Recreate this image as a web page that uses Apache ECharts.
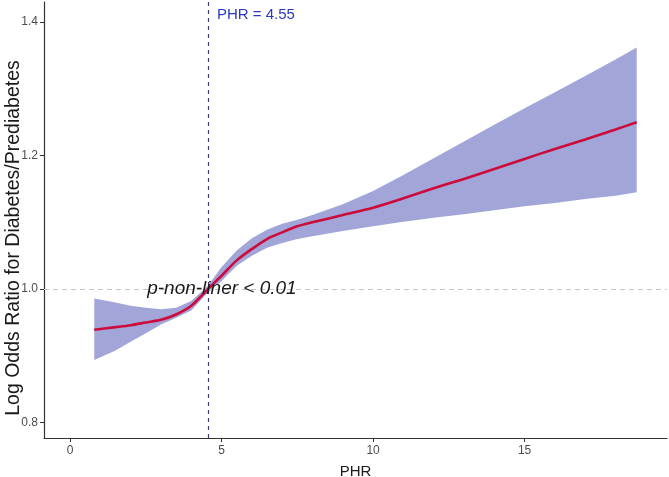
<!DOCTYPE html>
<html>
<head>
<meta charset="utf-8">
<script src="https://cdn.jsdelivr.net/npm/echarts@6/dist/echarts.min.js"></script>
<style>
  html, body { margin: 0; padding: 0; background: #fff; }
  #chart { width: 669px; height: 477px; }
</style>
</head>
<body>
<div id="chart"></div>
<script>
// values
const phr = [0.8, 1.5, 2, 2.5, 3, 3.5, 4, 4.55, 5, 5.5, 6, 6.5, 7, 7.5, 8, 9, 10, 11, 12, 13, 14, 15, 16, 17, 18, 18.7];
const estimate = [0.939, 0.943, 0.946, 0.950, 0.954, 0.962, 0.975, 1.0, 1.020, 1.043, 1.060, 1.075, 1.085, 1.094, 1.100, 1.111, 1.122, 1.136, 1.151, 1.165, 1.180, 1.195, 1.210, 1.224, 1.239, 1.250];
const upper = [0.986, 0.980, 0.975, 0.972, 0.970, 0.972, 0.982, 1.005, 1.033, 1.058, 1.076, 1.089, 1.098, 1.104, 1.111, 1.127, 1.147, 1.171, 1.196, 1.221, 1.246, 1.271, 1.295, 1.319, 1.344, 1.362];
const lower = [0.894, 0.908, 0.921, 0.934, 0.947, 0.957, 0.968, 0.995, 1.012, 1.035, 1.050, 1.062, 1.069, 1.075, 1.079, 1.087, 1.094, 1.101, 1.107, 1.112, 1.118, 1.124, 1.129, 1.135, 1.140, 1.145];
const cutoff = 4.55;
const xTicks = [0, 5, 10, 15];
const yTicks = [0.8, 1.0, 1.2, 1.4];

const chart = echarts.init(document.getElementById("chart"), null, { renderer: "canvas" });
const font = "Liberation Sans, Arial, sans-serif";

// confidence band as one polygon: upper edge forward, lower edge back
function renderBand(params, api) {
  if (params.dataIndex !== 0) return null;
  const top = phr.map((x, i) => api.coord([x, upper[i]]));
  const bottom = phr.map((x, i) => api.coord([x, lower[i]])).reverse();
  return {
    type: "polygon",
    shape: { points: top.concat(bottom) },
    style: { fill: "#a2a5d7" },
    silent: true
  };
}

chart.setOption({
  animation: false,
  backgroundColor: "#fff",
  textStyle: { fontFamily: font },
  grid: { left: 44, right: 2, top: 2, bottom: 39, outerBoundsMode: "none", containLabel: false },
  xAxis: {
    type: "value",
    min: -0.86,
    max: 19.7,
    name: "PHR",
    nameLocation: "middle",
    nameGap: 26,
    nameTextStyle: { color: "#1a1a1a", fontSize: 15, fontFamily: font },
    axisLine: { onZero: false, lineStyle: { color: "#333", width: 1.2 } },
    axisTick: { length: 4, lineStyle: { color: "#333" }, customValues: xTicks },
    axisLabel: { color: "#4d4d4d", fontSize: 12, margin: 7, customValues: xTicks },
    splitLine: { show: false }
  },
  yAxis: {
    type: "value",
    min: 0.777,
    max: 1.43,
    axisLine: { onZero: false, lineStyle: { color: "#333", width: 1.2 } },
    axisTick: { length: 4, lineStyle: { color: "#333" }, customValues: yTicks },
    axisLabel: {
      color: "#4d4d4d", fontSize: 12, margin: 6,
      customValues: yTicks,
      formatter: (v) => v.toFixed(1)
    },
    splitLine: { show: false }
  },
  series: [
    {
      name: "band",
      type: "custom",
      renderItem: renderBand,
      data: phr.map((x, i) => [x, lower[i], upper[i]]),
      encode: { x: 0, y: [1, 2] },
      silent: true,
      z: 1
    },
    {
      name: "estimate",
      type: "line",
      data: phr.map((x, i) => [x, estimate[i]]),
      lineStyle: { color: "#cc0a3c", width: 2.6 },
      symbol: "none",
      smooth: 0.3,
      z: 5,
      markLine: {
        silent: true,
        symbol: "none",
        label: { show: false },
        data: [
          { yAxis: 1.0, lineStyle: { color: "#c6c6c6", type: [5, 4], width: 1 } },
          { xAxis: cutoff, lineStyle: { color: "#3a3d6e", type: [4, 4], width: 1.2 } }
        ]
      }
    }
  ]
});

// annotations anchored through the axes
const tagPos = chart.convertToPixel({ gridIndex: 0 }, [cutoff, 1.4]);
const pPos = chart.convertToPixel({ gridIndex: 0 }, [cutoff, 1.0]);
chart.setOption({
  graphic: [
    {
      type: "text",
      x: 14,
      y: 238,
      rotation: Math.PI / 2,
      style: {
        text: "Log Odds Ratio for Diabetes/Prediabetes",
        fill: "#1a1a1a",
        font: "19.5px " + font,
        align: "center",
        verticalAlign: "middle"
      }
    },
    {
      type: "text",
      x: tagPos[0] + 9,
      y: 7,
      style: { text: "PHR = 4.55", fill: "#2b38c4", font: "15px " + font }
    },
    {
      type: "text",
      x: pPos[0] + 14,
      y: pPos[1],
      style: {
        text: "p-non-liner < 0.01",
        fill: "#1a1a1a",
        font: "italic 19px " + font,
        align: "center",
        verticalAlign: "middle"
      },
      z: 10
    }
  ]
});
</script>
</body>
</html>
